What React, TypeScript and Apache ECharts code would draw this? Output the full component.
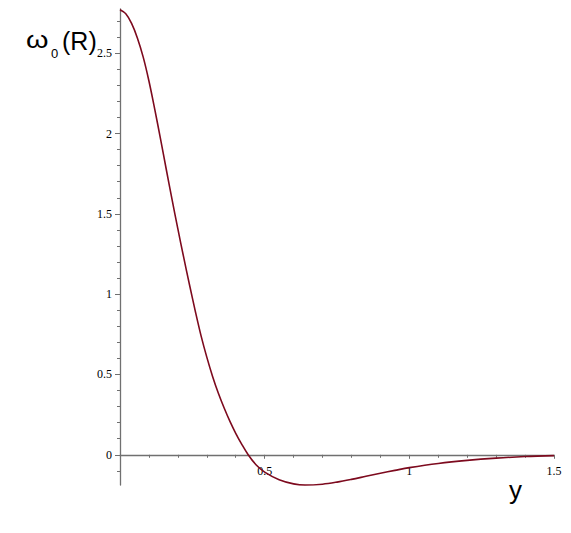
import React, { useEffect, useRef } from "react";
import * as echarts from "echarts";

const xValues = [0, 0.02, 0.04, 0.06, 0.08, 0.1, 0.12, 0.14, 0.16, 0.18, 0.2, 0.22, 0.24, 0.26, 0.28, 0.3, 0.32, 0.34, 0.36, 0.38, 0.4, 0.42, 0.443, 0.47, 0.5, 0.55, 0.6, 0.64, 0.7, 0.75, 0.8, 0.85, 0.9, 0.95, 1.0, 1.1, 1.2, 1.3, 1.4, 1.5];
const yValues = [2.77, 2.745, 2.685, 2.595, 2.477, 2.327, 2.152, 1.966, 1.776, 1.588, 1.406, 1.23, 1.06, 0.896, 0.742, 0.608, 0.488, 0.383, 0.291, 0.208, 0.134, 0.068, 0, -0.062, -0.108, -0.155, -0.181, -0.189, -0.183, -0.17, -0.153, -0.134, -0.115, -0.097, -0.08, -0.054, -0.035, -0.021, -0.011, -0.005];

const yMajorTicks = [0, 0.5, 1, 1.5, 2, 2.5];
const yMinorTicks = [-0.1, 0.1, 0.2, 0.3, 0.4, 0.6, 0.7, 0.8, 0.9, 1.1, 1.2, 1.3, 1.4, 1.6, 1.7, 1.8, 1.9, 2.1, 2.2, 2.3, 2.4, 2.6, 2.7];
const xTickLabels = ["", "0.5", "1", "1.5"];

const LABEL_FONT = "'Liberation Serif', 'Times New Roman', serif";
const TITLE_FONT = "'Liberation Sans', Arial, sans-serif";
const AXIS_COLOR = "#707070";

const Y_MIN = -0.188;
const Y_MAX = 2.775;
const GRID_TOP = 9;
const GRID_BOTTOM = 48;
const CHART_H = 533;

export default function App() {
  const ref = useRef<HTMLDivElement>(null);
  useEffect(() => {
    if (!ref.current) return;
    const chart = echarts.init(ref.current, null, { renderer: "svg" });
    const plotH = CHART_H - GRID_TOP - GRID_BOTTOM;
    // shift the x axis up from the grid bottom to the y = 0 level
    const zeroOffset = -((0 - Y_MIN) / (Y_MAX - Y_MIN)) * plotH;
    chart.setOption({
      animation: false,
      backgroundColor: "#ffffff",
      grid: { left: 120, right: 17, top: GRID_TOP, bottom: GRID_BOTTOM, containLabel: false },
      xAxis: {
        type: "value",
        min: 0,
        max: 1.5,
        interval: 0.5,
        offset: zeroOffset,
        axisLine: { onZero: false, lineStyle: { color: AXIS_COLOR, width: 1.3 } },
        axisTick: { show: true, length: 4, lineStyle: { color: AXIS_COLOR } },
        minorTick: { show: true, splitNumber: 5, length: 3, lineStyle: { color: AXIS_COLOR } },
        splitLine: { show: false },
        axisLabel: {
          color: "#000",
          fontFamily: LABEL_FONT,
          fontSize: 12,
          margin: 10,
          showMinLabel: true,
          showMaxLabel: true,
          formatter: (v: number) => xTickLabels[Math.round(v / 0.5)] ?? "",
        },
      },
      yAxis: [
        {
          type: "value",
          min: Y_MIN,
          max: Y_MAX,
          position: "left",
          axisLine: { onZero: false, lineStyle: { color: AXIS_COLOR, width: 1.3 } },
          axisTick: { show: true, length: 5, customValues: yMajorTicks, lineStyle: { color: AXIS_COLOR } },
          splitLine: { show: false },
          axisLabel: {
            color: "#000",
            fontFamily: LABEL_FONT,
            fontSize: 12,
            margin: 8,
            customValues: yMajorTicks,
            formatter: (v: number) => String(v),
          },
        },
        {
          type: "value",
          min: Y_MIN,
          max: Y_MAX,
          position: "left",
          axisLine: { show: false, onZero: false },
          axisTick: { show: true, length: 3, customValues: yMinorTicks, lineStyle: { color: AXIS_COLOR } },
          splitLine: { show: false },
          axisLabel: { show: false },
        },
      ],
      series: [
        {
          type: "line",
          data: xValues.map((x, i) => [x, yValues[i]]),
          smooth: 0.35,
          showSymbol: false,
          symbol: "none",
          lineStyle: { color: "#7d0a1e", width: 1.6 },
          xAxisIndex: 0,
          yAxisIndex: 0,
        },
      ],
      graphic: [
        {
          type: "text",
          left: 26,
          top: 28,
          scaleX: 1.2,
          style: { text: "ω", font: `24px ${TITLE_FONT}`, fill: "#000" },
        },
        {
          type: "text",
          left: 51,
          top: 47,
          style: { text: "0", font: `13px ${TITLE_FONT}`, fill: "#000" },
        },
        {
          type: "text",
          left: 62,
          top: 28,
          style: { text: "(R)", font: `25px ${TITLE_FONT}`, fill: "#000" },
        },
        {
          type: "text",
          left: 509,
          top: 477,
          style: { text: "y", font: `26px ${TITLE_FONT}`, fill: "#000" },
        },
      ],
    });
    return () => chart.dispose();
  }, []);
  return (
    <div
      ref={ref}
      style={{ position: "fixed", left: 0, top: 0, width: 571, height: 533, background: "#fff" }}
    />
  );
}
